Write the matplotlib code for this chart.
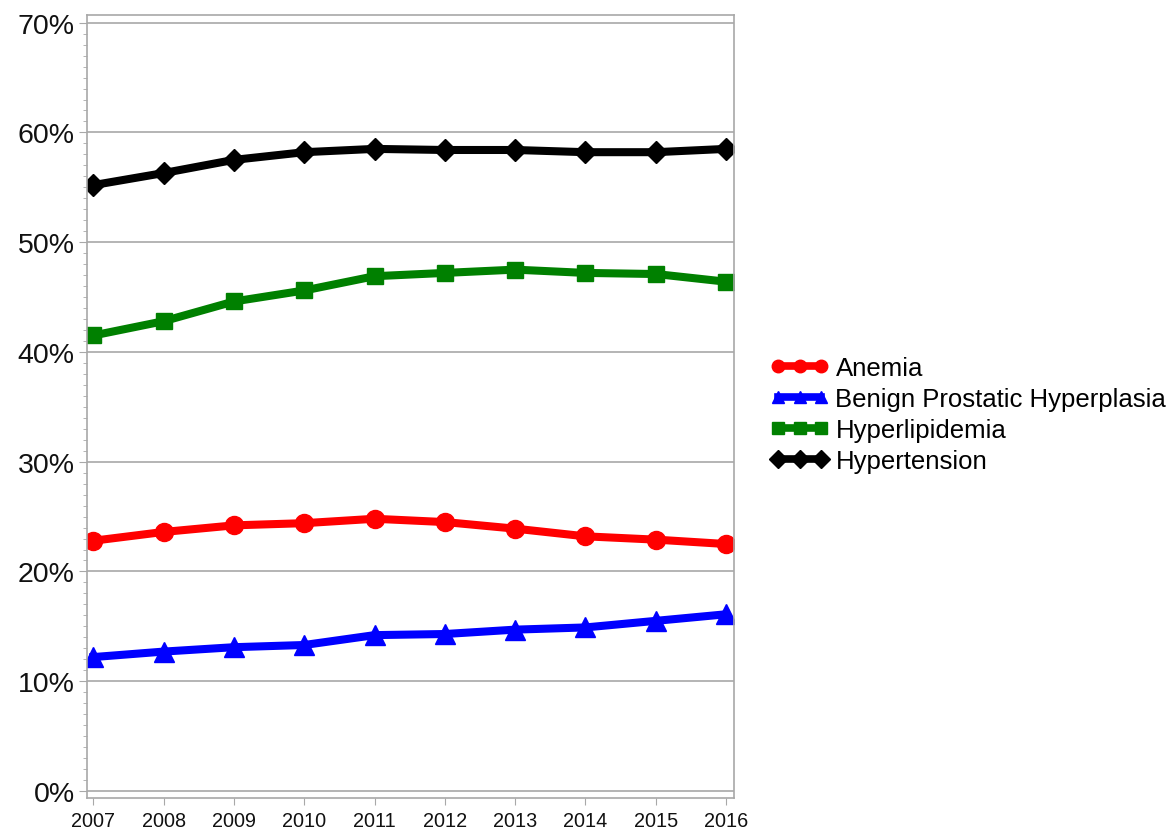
import matplotlib.pyplot as plt
from matplotlib.ticker import MultipleLocator, FuncFormatter

years = [2007, 2008, 2009, 2010, 2011, 2012, 2013, 2014, 2015, 2016]
anemia = [22.8, 23.6, 24.2, 24.4, 24.8, 24.5, 23.9, 23.2, 22.9, 22.5]
bph = [12.2, 12.7, 13.1, 13.3, 14.2, 14.3, 14.7, 14.9, 15.5, 16.1]
hyperlipidemia = [41.5, 42.8, 44.6, 45.6, 46.9, 47.2, 47.5, 47.2, 47.1, 46.4]
hypertension = [55.2, 56.3, 57.5, 58.2, 58.5, 58.4, 58.4, 58.2, 58.2, 58.5]

plt.rcParams['font.family'] = ['Liberation Sans', 'DejaVu Sans']

fig = plt.figure(figsize=(11.76, 8.37), dpi=100)
ax = fig.add_axes([0.074, 0.0454, 0.550, 0.9355])

ax.plot(years, anemia, color='red', lw=5.8, marker='o', ms=13, label='Anemia')
ax.plot(years, bph, color='blue', lw=5.8, marker='^', ms=14, label='Benign Prostatic Hyperplasia')
ax.plot(years, hyperlipidemia, color='green', lw=5.8, marker='s', ms=12, label='Hyperlipidemia')
ax.plot(years, hypertension, color='black', lw=5.8, marker='D', ms=11, label='Hypertension')

ax.set_xlim(2006.91, 2016.11)
ax.set_ylim(-0.64, 70.7)
ax.set_xticks(years)
ax.yaxis.set_major_locator(MultipleLocator(10))
ax.yaxis.set_minor_locator(MultipleLocator(1))
ax.yaxis.set_major_formatter(FuncFormatter(lambda v, p: '%d%%' % v))
ax.grid(axis='y', color='#a8a8a8', lw=1.2)
ax.set_axisbelow(True)

for s in ax.spines.values():
    s.set_color('#a8a8a8')
    s.set_linewidth(1.2)
ax.tick_params(axis='y', which='major', labelsize=20.5, length=6, pad=3)
ax.tick_params(axis='y', which='minor', length=3)
ax.tick_params(axis='x', labelsize=14.3, length=5, pad=4)
ax.tick_params(axis='both', which='both', colors='#a8a8a8', labelcolor='#111111')

leg = ax.legend(loc='center left', bbox_to_anchor=(1.04, 0.49), frameon=False,
                fontsize=18.5, numpoints=3, handlelength=2.3, handletextpad=0.25,
                labelspacing=0.27, borderaxespad=0)
for h in leg.legend_handles:
    h.set_markersize(9)
    h.set_linewidth(5.5)

fig.savefig('out.png', dpi=100)
